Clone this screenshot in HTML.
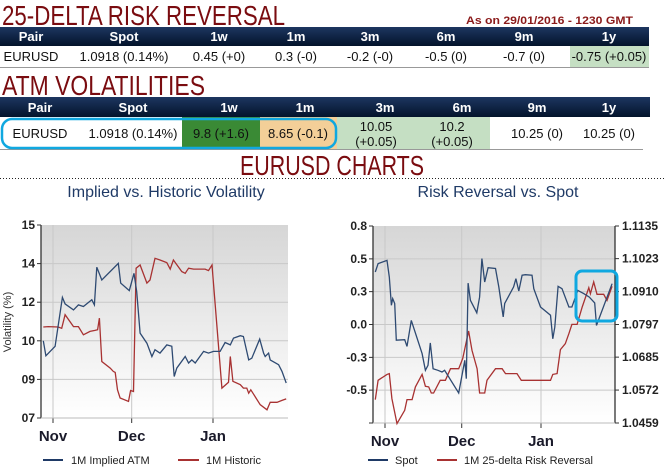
<!DOCTYPE html>
<html><head><meta charset="utf-8"><style>
html,body{margin:0;padding:0;background:#fff;}
svg{display:block;font-family:"Liberation Sans",sans-serif;}
</style></head><body>
<svg width="664" height="475" viewBox="0 0 664 475">
<defs>
<linearGradient id="hdr" x1="0" y1="0" x2="0" y2="1"><stop offset="0" stop-color="#1d3660"/><stop offset="1" stop-color="#03132b"/></linearGradient>
<linearGradient id="plotbg" x1="0" y1="0" x2="0" y2="1"><stop offset="0" stop-color="#d6d6d6"/><stop offset="1" stop-color="#ffffff"/></linearGradient>
</defs>
<text x="2" y="25" font-size="28" fill="#7a0c10" textLength="283" lengthAdjust="spacingAndGlyphs">25-DELTA RISK REVERSAL</text>
<text x="466" y="24" font-size="11" font-weight="bold" fill="#8b1a1a" textLength="167" lengthAdjust="spacingAndGlyphs">As on 29/01/2016 - 1230 GMT</text>
<g>
<rect x="0" y="27" width="649" height="19" fill="url(#hdr)"/>
<g font-size="13" font-weight="bold" fill="#fff" text-anchor="middle">
<text x="31" y="41">Pair</text><text x="124" y="41">Spot</text><text x="219" y="41">1w</text><text x="296" y="41">1m</text><text x="370" y="41">3m</text><text x="446" y="41">6m</text><text x="524" y="41">9m</text><text x="609" y="41">1y</text>
</g>
<rect x="570" y="46" width="79" height="21" fill="#c5dfc3"/>
<g font-size="13" fill="#111" text-anchor="middle">
<text x="31" y="61">EURUSD</text><text x="124" y="61">1.0918 (0.14%)</text><text x="219" y="61">0.45 (+0)</text><text x="296" y="61">0.3 (-0)</text><text x="370" y="61">-0.2 (-0)</text><text x="446" y="61">-0.5 (0)</text><text x="524" y="61">-0.7 (0)</text><text x="609" y="61">-0.75 (+0.05)</text>
</g>
<line x1="0" y1="67.5" x2="649" y2="67.5" stroke="#999" stroke-width="1"/>
</g>
<text x="2" y="95" font-size="28" fill="#7a0c10" textLength="203" lengthAdjust="spacingAndGlyphs">ATM VOLATILITIES</text>
<g>
<rect x="0" y="97" width="650" height="20" fill="url(#hdr)"/>
<g font-size="13" font-weight="bold" fill="#fff" text-anchor="middle">
<text x="40" y="112">Pair</text><text x="133" y="112">Spot</text><text x="229" y="112">1w</text><text x="305" y="112">1m</text><text x="385" y="112">3m</text><text x="462" y="112">6m</text><text x="537" y="112">9m</text><text x="609" y="112">1y</text>
</g>
<rect x="182" y="117" width="78" height="32" fill="#3a8a35"/>
<rect x="260" y="117" width="77" height="32" fill="#f3cf98"/>
<rect x="337" y="117" width="153" height="32" fill="#c5dfc3"/>
<g font-size="13" fill="#111" text-anchor="middle">
<text x="40" y="138">EURUSD</text><text x="133" y="138">1.0918 (0.14%)</text><text x="221" y="138">9.8 (+1.6)</text><text x="298" y="138">8.65 (-0.1)</text>
<text x="376" y="131">10.05</text><text x="376" y="146">(+0.05)</text><text x="452" y="131">10.2</text><text x="452" y="146">(+0.05)</text>
<text x="537" y="138">10.25 (0)</text><text x="609" y="138">10.25 (0)</text>
</g>
<line x1="0" y1="149.5" x2="643" y2="149.5" stroke="#999" stroke-width="1"/>
<rect x="2" y="119" width="334" height="29" rx="10" fill="none" stroke="#10a8e0" stroke-width="2.5"/>
</g>
<text x="332" y="175" font-size="28" fill="#7a0c10" text-anchor="middle" textLength="184" lengthAdjust="spacingAndGlyphs">EURUSD CHARTS</text>
<line x1="0" y1="178.5" x2="664" y2="178.5" stroke="#222" stroke-width="1" stroke-dasharray="1,2"/>

<g id="c1"></g>
<g id="c2"></g>
</svg>
<script>
var volDaysImplied=[-3.7,-2.7,0.8,3.6,4.6,7.8,9.7,11.6,14.8,15.8,16.7,18.6,24.9,25.8,29.1,30.9,31.9,33.2,35.8,37.7,38.9,40.8,43.4,45.3,46.2,47.2,50.4,51.7,52.9,54.2,57.4,59.3,61.2,63.7,65.6,67.6,68.8,71.4,72.6,74.6,75.8,78.8,80.3,80.9,82.2,82.8,86,87.3,88.9];
var volImplied=[10.2,9.58,9.97,12.0,11.73,11.48,11.69,11.62,11.9,11.69,13.25,12.72,13.41,12.59,12.28,13.0,12.24,10.52,10.1,9.55,9.83,9.69,10.03,9.97,8.72,9.07,9.55,9.28,9.41,9.28,9.76,9.69,9.76,9.76,10.13,10.03,10.31,10.41,10.38,9.41,9.48,10.27,9.69,9.55,9.69,9.41,9.21,8.93,8.45];
var volDaysHist=[-3.7,-1.8,2.0,3.3,4.6,7.8,9.7,11.6,14.1,16.0,17.0,17.7,18.6,21.8,23.0,23.7,24.6,25.6,28.8,29.6,30.7,31.7,33.2,35.8,37.0,38.9,40.8,43.4,44.7,45.9,49.1,50.4,51.7,53.6,58.0,59.3,60.6,64.4,66.9,67.6,68.6,71.4,72.6,73.9,74.6,75.4,79.0,81.6,82.8,85.4,87.3,88.9];
var volHist=[10.77,10.79,10.77,10.72,11.28,10.79,10.79,10.45,10.59,10.63,10.66,11.14,9.34,9.07,8.93,8.89,8.17,7.83,7.69,8.14,8.10,13.21,13.34,12.59,12.72,13.62,13.55,13.44,13.17,13.55,13.07,13.0,13.21,13.17,13.17,13.11,13.34,8.24,8.48,9.55,8.52,8.38,8.24,8.24,8.03,8.17,7.55,7.34,7.65,7.65,7.73,7.79];
var volTickValues=[7,8.6,10.2,11.8,13.4,15];
var volTickLabels=["07","09","10","12","14","15"];
var spotDays=[-3.8,-2.7,0.8,1.7,2.5,3.0,3.8,4.4,7.7,8.6,10.3,14.5,15.8,16.8,17.7,18.8,20.7,22.3,23.3,28.8,31.2,31.8,32.5,33.4,35.9,37.0,37.9,39.0,40.3,43.2,44.5,46.2,46.8,50.3,51.2,52.3,53.6,54.9,57.5,58.2,60.8,64.7,65.6,66.4,67.7,69.2,71.9,73.1,75.4,77.7,79.9,82.0,82.7,88.8];
var spotValues=[1.0977,1.1006,1.1017,1.0960,1.0863,1.0886,1.0869,1.0743,1.0745,1.0722,1.0811,1.0697,1.0640,1.0657,1.0734,1.0645,1.0640,1.0634,1.0640,1.0562,1.0674,1.0611,1.0939,1.0880,1.0837,1.0891,1.1023,1.0943,1.0992,1.0989,1.0926,1.0823,1.0869,1.0926,1.0954,1.0912,1.0966,1.0968,1.0966,1.0920,1.0857,1.0829,1.0748,1.0788,1.0928,1.0920,1.0857,1.0857,1.0914,1.0903,1.0891,1.0871,1.0794,1.0937];
var rrDays=[-3.8,-2.7,0.8,1.7,2.7,4.7,7.7,8.6,10.6,11.9,14.5,15.8,17.1,18.1,19.0,21.6,23.6,25.6,28.8,30.4,32.7,34.0,36.0,37.0,39.0,39.9,43.2,45.8,47.1,51.6,53.3,64.7,65.6,67.3,68.6,70.5,71.9,73.1,75.1,77.1,79.7,80.3,81.6,82.9,85.5,86.8,88.8];
var rrValues=[-0.61,-0.453,-0.405,-0.399,-0.602,-0.805,-0.697,-0.61,-0.61,-0.507,-0.405,-0.502,-0.507,-0.556,-0.556,-0.453,-0.453,-0.359,-0.359,-0.277,-0.053,-0.21,-0.359,-0.556,-0.556,-0.453,-0.359,-0.359,-0.399,-0.399,-0.453,-0.453,-0.405,-0.399,-0.204,-0.156,-0.074,0.001,0.001,0.142,0.299,0.25,0.345,0.245,0.245,0.196,0.31];
var rrTickValues=[0.8,0.533,0.267,0,-0.267,-0.533,-0.8];
var rrTickLabels=["0.8","0.5","0.3","0.0","-0.3","-0.5",""];
var spotTickValues=[1.1135,1.1023,1.0910,1.0797,1.0685,1.0572,1.0459];
var spotTickLabels=["1.1135","1.1023","1.0910","1.0797","1.0685","1.0572","1.0459"];
var monthLabels=["Nov","Dec","Jan"];
var monthDays=[0,30,61];

var NS="http://www.w3.org/2000/svg";
function mk(parent,tag,attrs,txt){var e=document.createElementNS(NS,tag);for(var k in attrs)e.setAttribute(k,attrs[k]);if(txt!==undefined)e.textContent=txt;parent.appendChild(e);return e;}
function lin(d0,d1,r0,r1){return function(v){return r0+(v-d0)/(d1-d0)*(r1-r0);};}
function pathD(xs,ys,sx,sy){var d="";for(var i=0;i<xs.length;i++){d+=(i?"L":"M")+sx(xs[i]).toFixed(1)+" "+sy(ys[i]).toFixed(1);}return d;}

function frame(g,L,R,T,B,sx,name){
  var bg=mk(g,'rect',{x:L,y:T,width:R-L,height:B-T,fill:'url(#plotbg)'});
  
  
  for(var i=0;i<monthDays.length;i++){
    var x=sx(monthDays[i]);
    mk(g,'line',{x1:x,y1:T,x2:x,y2:B,stroke:'#c8c8c8','stroke-width':1});
    mk(g,'line',{x1:x,y1:B,x2:x,y2:B+5,stroke:'#333','stroke-width':1});
    var t=mk(g,'text',{x:x,y:B+23,'font-size':15,'font-weight':'bold',fill:'#1a1a2a','text-anchor':'middle'},monthLabels[i]);
    
    
  }
}

(function(){
  var g=document.getElementById('c1');
  var L=41,R=288,T=225,B=418;
  var sx=lin(0,61,53,213), sy=lin(7,15,B,T);
  var t=mk(g,'text',{x:166,y:197,'font-size':16,fill:'#1f3a66','text-anchor':'middle'},'Implied vs. Historic Volatility');
  
  
  frame(g,L,R,T,B,sx,'volatility');
  for(var i=0;i<volTickValues.length;i++){
    var y=sy(volTickValues[i]);
    if(i>0&&i<volTickValues.length-1)mk(g,'line',{x1:L,y1:y,x2:R,y2:y,stroke:'#c8c8c8','stroke-width':1});
    mk(g,'line',{x1:L-4,y1:y,x2:L,y2:y,stroke:'#333'});
    var tl=mk(g,'text',{x:L-6,y:y+4,'font-size':12,'font-weight':'bold',fill:'#222','text-anchor':'end'},volTickLabels[i]);
    
    
  }
  mk(g,'line',{x1:L,y1:T,x2:L,y2:B,stroke:'#333','stroke-width':1.3});
  mk(g,'line',{x1:L,y1:B,x2:R,y2:B,stroke:'#bbb','stroke-width':1});
  var yt=mk(g,'text',{x:0,y:0,'font-size':11,fill:'#333','text-anchor':'middle',transform:'translate(11,322) rotate(-90)'},'Volatility (%)');
  
  
  var p1=mk(g,'path',{d:pathD(volDaysHist,volHist,sx,sy),fill:'none',stroke:'#a83232','stroke-width':1.3});
  
  
  var p2=mk(g,'path',{d:pathD(volDaysImplied,volImplied,sx,sy),fill:'none',stroke:'#2e4a72','stroke-width':1.3});
  
  
  var lg=mk(g,'g',{});
  
  
  mk(lg,'line',{x1:43,y1:460,x2:63,y2:460,stroke:'#1f3a66','stroke-width':2});
  mk(lg,'text',{x:71,y:464,'font-size':11,fill:'#222'},'1M Implied ATM');
  mk(lg,'line',{x1:178,y1:460,x2:199,y2:460,stroke:'#a83232','stroke-width':2});
  mk(lg,'text',{x:206,y:464,'font-size':11,fill:'#222'},'1M Historic');
})();

(function(){
  var g=document.getElementById('c2');
  var L=373,R=615,T=226,B=423;
  var sx=lin(0,61,385,541), sy=lin(-0.8,0.8,B,T), sy2=lin(1.0459,1.1135,B,T);
  var t=mk(g,'text',{x:498,y:197,'font-size':16,fill:'#1f3a66','text-anchor':'middle'},'Risk Reversal vs. Spot');
  
  
  frame(g,L,R,T,B,sx,'risk-reversal');
  for(var i=0;i<rrTickValues.length;i++){
    var y=sy(rrTickValues[i]);
    if(i>0&&i<rrTickValues.length-1)mk(g,'line',{x1:L,y1:y,x2:R,y2:y,stroke:'#c8c8c8','stroke-width':1});
    mk(g,'line',{x1:L-4,y1:y,x2:L,y2:y,stroke:'#333'});
    var tl=mk(g,'text',{x:L-6,y:y+4,'font-size':12,'font-weight':'bold',fill:'#222','text-anchor':'end'},rrTickLabels[i]);
    
    
  }
  for(var j=0;j<spotTickValues.length;j++){
    var y2=sy2(spotTickValues[j]);
    mk(g,'line',{x1:R,y1:y2,x2:R+4,y2:y2,stroke:'#333'});
    var tr=mk(g,'text',{x:R+7,y:y2+4,'font-size':12,'font-weight':'bold',fill:'#222'},spotTickLabels[j]);
    
    
  }
  mk(g,'line',{x1:L,y1:T,x2:L,y2:B,stroke:'#333','stroke-width':1.3});
  mk(g,'line',{x1:R,y1:T,x2:R,y2:B,stroke:'#333','stroke-width':1.3});
  mk(g,'line',{x1:L,y1:B,x2:R,y2:B,stroke:'#bbb','stroke-width':1});
  var p1=mk(g,'path',{d:pathD(rrDays,rrValues,sx,sy),fill:'none',stroke:'#a83232','stroke-width':1.3});
  
  
  var p2=mk(g,'path',{d:pathD(spotDays,spotValues,sx,sy2),fill:'none',stroke:'#2e4a72','stroke-width':1.3});
  
  
  var hb=mk(g,'rect',{x:576,y:271,width:41,height:50,rx:6,fill:'none',stroke:'#10a8e0','stroke-width':3});
  
  
  var lg=mk(g,'g',{});
  
  
  mk(lg,'line',{x1:368,y1:460,x2:388,y2:460,stroke:'#1f3a66','stroke-width':2});
  mk(lg,'text',{x:395,y:464,'font-size':11,fill:'#222'},'Spot');
  mk(lg,'line',{x1:437,y1:460,x2:457,y2:460,stroke:'#a83232','stroke-width':2});
  mk(lg,'text',{x:464,y:464,'font-size':11,fill:'#222'},'1M 25-delta Risk Reversal');
})();
</script>
</body></html>
